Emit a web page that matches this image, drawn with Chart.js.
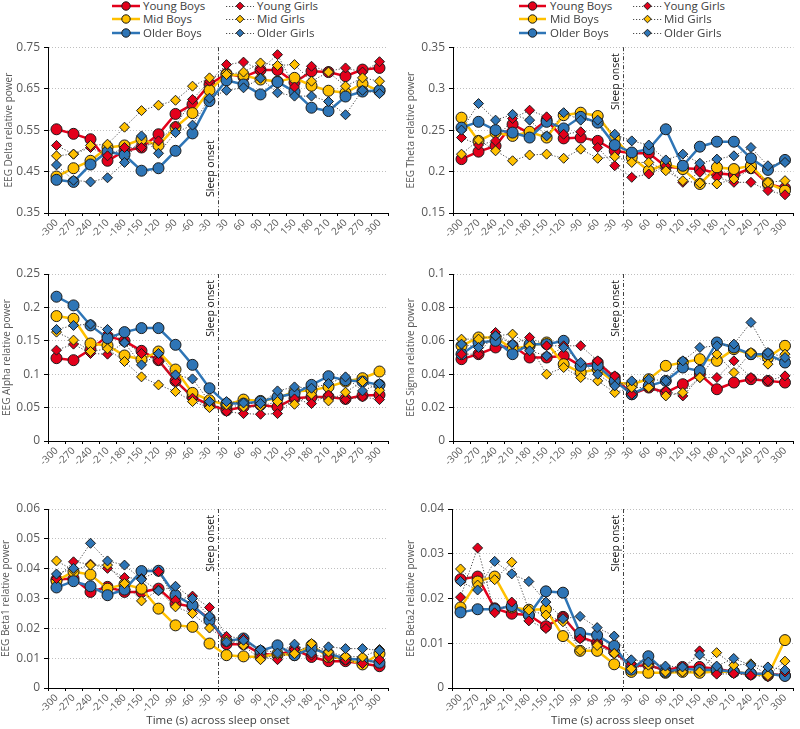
<!DOCTYPE html>
<html><head><meta charset="utf-8">
<script src="https://cdn.jsdelivr.net/npm/chart.js@4.4.0/dist/chart.umd.min.js"></script>
<style>
body{margin:0;background:#fff;width:800px;height:729px;position:relative;overflow:hidden;font-family:"Open Sans",sans-serif;}
canvas{position:absolute;}
.li{position:absolute;white-space:nowrap;height:14px;}
.li svg{position:absolute;left:0;top:0;overflow:visible;}
.li span{position:absolute;top:-1px;font-size:11.5px;color:#404040;line-height:16px;}
</style></head><body>
<script>
const CATS = ['-300','-270','-240','-210','-180','-150','-120','-90','-60','-30','30','60','90','120','150','180','210','240','270','300'];
const SERIES = ['Young Boys','Mid Boys','Older Boys','Young Girls','Mid Girls','Older Girls'];
const ONSET_LABEL = 'Sleep onset';
const X_TITLE = 'Time (s) across sleep onset';

const deltaYoungBoys  = [0.552,0.541,0.528,0.476,0.500,0.508,0.540,0.589,0.612,0.660,0.686,0.678,0.695,0.695,0.665,0.692,0.690,0.680,0.696,0.700];
const deltaMidBoys    = [0.438,0.458,0.476,0.508,0.513,0.528,0.513,0.557,0.591,0.646,0.684,0.682,0.672,0.667,0.676,0.657,0.645,0.640,0.662,0.644];
const deltaOlderBoys  = [0.430,0.425,0.467,0.498,0.490,0.452,0.458,0.500,0.542,0.620,0.670,0.660,0.636,0.666,0.643,0.604,0.596,0.631,0.643,0.646];
const deltaYoungGirls = [0.513,0.492,0.508,0.488,0.508,0.508,0.524,0.560,0.624,0.668,0.708,0.714,0.696,0.732,0.654,0.704,0.692,0.700,0.690,0.715];
const deltaMidGirls   = [0.488,0.492,0.513,0.516,0.557,0.597,0.610,0.622,0.656,0.676,0.684,0.690,0.712,0.706,0.708,0.668,0.690,0.656,0.676,0.668];
const deltaOlderGirls = [0.466,0.429,0.425,0.435,0.472,0.536,0.494,0.544,0.562,0.627,0.646,0.652,0.675,0.640,0.632,0.632,0.619,0.587,0.646,0.638];

const thetaYoungBoys  = [0.215,0.224,0.231,0.257,0.246,0.262,0.240,0.241,0.237,0.225,0.222,0.222,0.206,0.204,0.203,0.198,0.196,0.204,0.185,0.180];
const thetaMidBoys    = [0.265,0.237,0.247,0.243,0.248,0.241,0.268,0.271,0.267,0.240,0.217,0.201,0.209,0.203,0.185,0.205,0.203,0.207,0.186,0.177];
const thetaOlderBoys  = [0.253,0.260,0.250,0.247,0.241,0.260,0.252,0.266,0.259,0.232,0.223,0.227,0.251,0.207,0.230,0.236,0.236,0.216,0.202,0.214];
const thetaYoungGirls = [0.241,0.232,0.237,0.264,0.274,0.266,0.245,0.248,0.229,0.207,0.193,0.197,0.207,0.187,0.199,0.193,0.187,0.187,0.177,0.172];
const thetaMidGirls   = [0.221,0.238,0.225,0.213,0.220,0.221,0.216,0.227,0.216,0.218,0.211,0.211,0.201,0.189,0.186,0.185,0.191,0.203,0.187,0.189];
const thetaOlderGirls = [0.250,0.282,0.262,0.269,0.262,0.243,0.271,0.262,0.262,0.245,0.237,0.232,0.214,0.221,0.210,0.215,0.219,0.229,0.207,0.211];

const alphaYoungBoys  = [0.124,0.121,0.137,0.157,0.150,0.135,0.121,0.090,0.066,0.054,0.046,0.051,0.054,0.051,0.064,0.066,0.066,0.063,0.068,0.069];
const alphaMidBoys    = [0.187,0.183,0.146,0.143,0.128,0.122,0.134,0.107,0.072,0.061,0.054,0.062,0.060,0.064,0.074,0.076,0.081,0.089,0.094,0.104];
const alphaOlderBoys  = [0.216,0.203,0.173,0.154,0.163,0.169,0.169,0.144,0.114,0.079,0.056,0.056,0.059,0.066,0.071,0.084,0.097,0.091,0.089,0.084];
const alphaYoungGirls = [0.136,0.145,0.131,0.130,0.148,0.131,0.120,0.089,0.064,0.051,0.044,0.041,0.040,0.041,0.063,0.056,0.069,0.062,0.066,0.062];
const alphaMidGirls   = [0.163,0.151,0.134,0.138,0.119,0.096,0.084,0.074,0.059,0.050,0.054,0.051,0.052,0.059,0.055,0.070,0.060,0.073,0.089,0.076];
const alphaOlderGirls = [0.167,0.173,0.175,0.167,0.147,0.114,0.131,0.099,0.093,0.059,0.059,0.057,0.056,0.075,0.081,0.079,0.086,0.096,0.075,0.086];

const sigmaYoungBoys  = [0.049,0.052,0.056,0.057,0.050,0.050,0.051,0.045,0.047,0.038,0.028,0.032,0.029,0.034,0.040,0.031,0.035,0.037,0.036,0.035];
const sigmaMidBoys    = [0.057,0.062,0.062,0.055,0.057,0.059,0.046,0.041,0.043,0.035,0.034,0.037,0.045,0.047,0.049,0.048,0.055,0.052,0.050,0.057];
const sigmaOlderBoys  = [0.052,0.059,0.060,0.052,0.058,0.058,0.060,0.045,0.045,0.036,0.028,0.033,0.036,0.044,0.042,0.059,0.056,0.052,0.052,0.047];
const sigmaYoungGirls = [0.052,0.052,0.065,0.058,0.062,0.057,0.057,0.057,0.048,0.039,0.028,0.032,0.030,0.027,0.038,0.038,0.048,0.038,0.036,0.039];
const sigmaMidGirls   = [0.061,0.061,0.063,0.064,0.057,0.040,0.044,0.038,0.036,0.029,0.032,0.032,0.027,0.029,0.038,0.052,0.041,0.053,0.046,0.052];
const sigmaOlderGirls = [0.058,0.056,0.063,0.058,0.054,0.051,0.056,0.047,0.040,0.033,0.036,0.037,0.036,0.048,0.056,0.057,0.058,0.071,0.053,0.050];

const beta1YoungBoys  = [0.0364,0.0367,0.0322,0.0339,0.0322,0.0322,0.0333,0.0283,0.0272,0.0233,0.0147,0.0147,0.0115,0.0110,0.0129,0.0104,0.0090,0.0090,0.0082,0.0073];
const beta1MidBoys    = [0.0359,0.0390,0.0380,0.0333,0.0348,0.0333,0.0266,0.0210,0.0205,0.0149,0.0110,0.0106,0.0104,0.0115,0.0110,0.0143,0.0104,0.0098,0.0079,0.0115];
const beta1OlderBoys  = [0.0337,0.0358,0.0341,0.0311,0.0330,0.0392,0.0393,0.0311,0.0278,0.0227,0.0158,0.0166,0.0124,0.0143,0.0110,0.0132,0.0115,0.0098,0.0095,0.0085];
const beta1YoungGirls = [0.0367,0.0423,0.0415,0.0401,0.0370,0.0367,0.0390,0.0294,0.0308,0.0270,0.0173,0.0166,0.0104,0.0095,0.0129,0.0110,0.0104,0.0093,0.0082,0.0095];
const beta1MidGirls   = [0.0426,0.0395,0.0412,0.0412,0.0350,0.0292,0.0328,0.0272,0.0250,0.0201,0.0160,0.0143,0.0095,0.0113,0.0115,0.0149,0.0121,0.0106,0.0104,0.0129];
const beta1OlderGirls = [0.0382,0.0401,0.0485,0.0426,0.0412,0.0364,0.0326,0.0341,0.0300,0.0241,0.0154,0.0160,0.0129,0.0117,0.0147,0.0117,0.0138,0.0132,0.0132,0.0126];

const beta2YoungBoys  = [0.0243,0.0249,0.0178,0.0166,0.0163,0.0138,0.0159,0.0114,0.0101,0.0081,0.0049,0.0051,0.0040,0.0047,0.0047,0.0043,0.0036,0.0031,0.0032,0.0028];
const beta2MidBoys    = [0.0180,0.0238,0.0249,0.0180,0.0175,0.0176,0.0116,0.0083,0.0083,0.0053,0.0036,0.0034,0.0034,0.0036,0.0034,0.0037,0.0036,0.0032,0.0028,0.0107];
const beta2OlderBoys  = [0.0169,0.0176,0.0176,0.0183,0.0163,0.0216,0.0213,0.0123,0.0118,0.0094,0.0041,0.0071,0.0036,0.0043,0.0040,0.0041,0.0036,0.0032,0.0032,0.0027];
const beta2YoungGirls = [0.0203,0.0313,0.0168,0.0192,0.0150,0.0133,0.0160,0.0110,0.0099,0.0077,0.0054,0.0054,0.0036,0.0036,0.0083,0.0031,0.0032,0.0028,0.0025,0.0036];
const beta2MidGirls   = [0.0266,0.0230,0.0242,0.0281,0.0174,0.0163,0.0148,0.0084,0.0095,0.0077,0.0043,0.0051,0.0036,0.0036,0.0036,0.0079,0.0051,0.0054,0.0028,0.0060];
const beta2OlderGirls = [0.0238,0.0219,0.0283,0.0255,0.0238,0.0192,0.0155,0.0160,0.0135,0.0116,0.0063,0.0058,0.0049,0.0047,0.0074,0.0049,0.0066,0.0051,0.0047,0.0040];

const COLORS = ['#E3001B','#FFC000','#2E75B6'];

const panels = [
  {left:0,  top:36,  w:400, h:204, plotL:48,  plotR:388, plotT:46,  plotB:213, min:0.35, max:0.75, step:0.1,  title:'EEG Delta relative power', tpad:3, xTitle:false, onset:'bottom',
   data:[deltaYoungBoys,deltaMidBoys,deltaOlderBoys,deltaYoungGirls,deltaMidGirls,deltaOlderGirls]},
  {left:400,top:36,  w:400, h:204, plotL:453, plotR:797, plotT:46,  plotB:213, min:0.15, max:0.35, step:0.05, title:'EEG Theta relative power', tpad:5, xTitle:false, onset:'top',
   data:[thetaYoungBoys,thetaMidBoys,thetaOlderBoys,thetaYoungGirls,thetaMidGirls,thetaOlderGirls]},
  {left:0,  top:262, w:400, h:208, plotL:48,  plotR:388, plotT:274, plotB:441, min:0, max:0.25, step:0.05, title:'EEG Alpha relative power', tpad:1, xTitle:false, onset:'top',
   data:[alphaYoungBoys,alphaMidBoys,alphaOlderBoys,alphaYoungGirls,alphaMidGirls,alphaOlderGirls]},
  {left:400,top:262, w:400, h:208, plotL:453, plotR:797, plotT:274, plotB:441, min:0, max:0.1, step:0.02, title:'EEG Sigma relative power', tpad:5, xTitle:false, onset:'top',
   data:[sigmaYoungBoys,sigmaMidBoys,sigmaOlderBoys,sigmaYoungGirls,sigmaMidGirls,sigmaOlderGirls]},
  {left:0,  top:495, w:400, h:234, plotL:48,  plotR:388, plotT:509, plotB:688, min:0, max:0.06, step:0.01, title:'EEG Beta1 relative power', tpad:0, xTitle:true, onset:'top',
   data:[beta1YoungBoys,beta1MidBoys,beta1OlderBoys,beta1YoungGirls,beta1MidGirls,beta1OlderGirls]},
  {left:400,top:495, w:400, h:234, plotL:452, plotR:797, plotT:509, plotB:688, min:0, max:0.04, step:0.01, title:'EEG Beta2 relative power', tpad:5, xTitle:true, onset:'top',
   data:[beta2YoungBoys,beta2MidBoys,beta2OlderBoys,beta2YoungGirls,beta2MidGirls,beta2OlderGirls]}
];

const sleepOnsetPlugin = {
  id:'sleepOnset',
  beforeDatasetsDraw(chart, args, opts){
    const xs = chart.scales.x, a = chart.chartArea, ctx = chart.ctx;
    const x = Math.round((xs.getPixelForValue(9) + xs.getPixelForValue(10)) / 2) + 0.5;
    ctx.save();
    ctx.strokeStyle = '#404040'; ctx.lineWidth = 1; ctx.setLineDash([4,2,1,2]);
    ctx.beginPath(); ctx.moveTo(x, a.top); ctx.lineTo(x, a.bottom); ctx.stroke();
    ctx.setLineDash([]);
    ctx.fillStyle = '#111'; ctx.font = '10.5px "Open Sans"';
    ctx.translate(x - 2, opts.pos === 'top' ? a.top + 6 : a.bottom - 16);
    ctx.rotate(-Math.PI / 2);
    ctx.textAlign = opts.pos === 'top' ? 'right' : 'left';
    ctx.textBaseline = 'bottom';
    ctx.fillText(ONSET_LABEL, 0, 0);
    ctx.restore();
  }
};
Chart.register(sleepOnsetPlugin);

function buildDatasets(d){
  return SERIES.map((name, i) => {
    const boy = i < 3, col = COLORS[i % 3];
    return {
      label: name, data: d[i], order: 6 - i,
      borderColor: boy ? col : '#4d4d4d', backgroundColor: col,
      borderWidth: boy ? 2.5 : 1, borderDash: boy ? [] : [1.2, 1.8],
      pointStyle: boy ? 'circle' : 'rectRot', pointRadius: boy ? 5.5 : 5,
      pointBackgroundColor: col, pointBorderColor: '#1a1a1a', pointBorderWidth: 1,
      tension: 0, fill: false
    };
  });
}

panels.forEach((p) => {
  const c = document.createElement('canvas');
  c.width = p.w; c.height = p.h;
  c.style.left = p.left + 'px'; c.style.top = p.top + 'px';
  c.style.width = p.w + 'px'; c.style.height = p.h + 'px';
  document.body.appendChild(c);
  const yW = p.plotL - p.left, xH = p.top + p.h - p.plotB;
  new Chart(c, {
    type: 'line',
    data: { labels: CATS, datasets: buildDatasets(p.data) },
    options: {
      responsive: false, animation: false, devicePixelRatio: 1,
      layout: { padding: { top: p.plotT - p.top, right: p.left + p.w - p.plotR, bottom: 0, left: 0 } },
      plugins: { legend: { display: false }, tooltip: { enabled: false }, sleepOnset: { pos: p.onset } },
      scales: {
        x: {
          type: 'category', offset: true,
          afterFit: s => { s.height = xH; },
          grid: { display: true, drawOnChartArea: false, drawTicks: true, tickLength: 3, offset: true, tickColor: '#000' },
          border: { color: '#000', width: 1 },
          ticks: { autoSkip: false, minRotation: 45, maxRotation: 45, color: '#595959', font: { family: 'Open Sans', size: 10 }, padding: 1 },
          title: { display: p.xTitle, text: X_TITLE, color: '#404040', font: { family: 'Open Sans', size: 11.5 }, padding: { top: 0, bottom: 1 } }
        },
        y: {
          min: p.min, max: p.max,
          afterFit: s => { s.width = yW; },
          grid: { color: '#BFBFBF', lineWidth: 1, drawTicks: true, tickLength: 4, tickColor: '#000', tickBorderDash: [] },
          border: { color: '#000', width: 1, dash: [1, 2] },
          ticks: { stepSize: p.step, color: '#595959', font: { family: 'Open Sans', size: 12 }, padding: 4,
                   callback: v => String(+(+v).toFixed(4)) },
          title: { display: true, text: p.title, color: '#595959', font: { family: 'Open Sans', size: 10 }, padding: { top: p.tpad, bottom: 0 } }
        }
      }
    }
  });
});

// HTML legends (top two panels)
const legendSpecs = [
  {rowsY:[6,19,33], boyLine:[112,140], boyText:143, girlLine:[226,254], girlText:257},
  {rowsY:[6,19,33], boyLine:[519,546], boyText:550, girlLine:[633,662], girlText:664}
];
legendSpecs.forEach(L => {
  for (let r = 0; r < 3; r++) {
    [[r, L.boyLine, L.boyText, true], [r + 3, L.girlLine, L.girlText, false]].forEach(([si, ln, tx, boy]) => {
      const col = COLORS[si % 3];
      const d = document.createElement('div');
      d.className = 'li';
      d.style.left = ln[0] + 'px'; d.style.top = (L.rowsY[r] - 7) + 'px';
      const wl = ln[1] - ln[0], cx = wl / 2;
      const marker = boy
        ? `<circle cx="${cx}" cy="7" r="4.2" fill="${col}" stroke="#1a1a1a" stroke-width="1"/>`
        : `<path d="M${cx-3.8} 7 L${cx} 3.2 L${cx+3.8} 7 L${cx} 10.8 Z" fill="${col}" stroke="#1a1a1a" stroke-width="1"/>`;
      const line = boy
        ? `<line x1="0" y1="7" x2="${wl}" y2="7" stroke="${col}" stroke-width="2.5"/>`
        : `<line x1="0" y1="7.5" x2="${wl}" y2="7.5" stroke="#4d4d4d" stroke-width="1" stroke-dasharray="1.2 1.8"/>`;
      d.innerHTML = `<svg width="${wl}" height="14">${line}${marker}</svg><span style="left:${tx - ln[0]}px">${SERIES[si]}</span>`;
      document.body.appendChild(d);
    });
  }
});
</script>
</body></html>
